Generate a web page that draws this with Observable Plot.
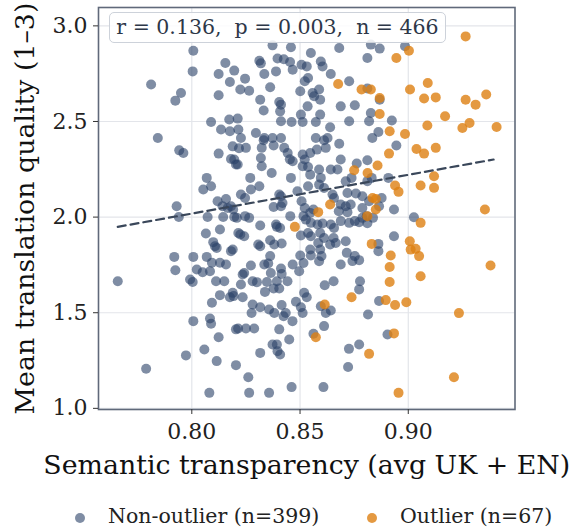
<!DOCTYPE html>
<html><head><meta charset="utf-8">
<script src="https://cdn.jsdelivr.net/npm/d3@7"></script>
<script src="https://cdn.jsdelivr.net/npm/@observablehq/plot@0.6"></script>
<style>
body{margin:0;background:#fff;font-family:"DejaVu Serif",serif;}
#wrap{position:relative;width:570px;height:528px;overflow:hidden;}
#stat{position:absolute;left:109px;top:12px;width:337px;height:31px;box-sizing:border-box;border:1px solid #cdd2da;border-radius:5px;background:rgba(255,255,255,0.85);font-size:20.5px;color:#2d3748;line-height:29px;text-align:center;white-space:pre;}
#legend{position:relative;height:24px;font-size:20.5px;color:#222;}
.item{position:absolute;top:0;line-height:24px;white-space:pre;}
.sw{position:absolute;width:10px;height:10px;border-radius:50%;top:9px;}
</style></head>
<body><div id="wrap"><div id="chart"></div><div id="stat"></div><div id="legend"></div></div>
<script>
const xTicks = [0.80, 0.85, 0.90];
const yTicks = [1.0, 1.5, 2.0, 2.5, 3.0];
const xLabel = "Semantic transparency (avg UK + EN)";
const yLabel = "Mean translation quality (1–3)";
const statText = "r = 0.136,  p = 0.003,  n = 466";
const seriesNames = ["Non-outlier (n=399)", "Outlier (n=67)"];
const fitLine = [{x: 0.7658, y: 1.949}, {x: 0.9394, y: 2.301}];

const nonOutlier = [
[0.8007,2.870],[0.8004,2.762],[0.8155,2.806],[0.8124,2.748],[0.8196,2.766],[0.8176,2.706],[0.7812,2.693],[0.7950,2.649],[0.7924,2.609],[0.8124,2.637],[0.8089,2.497],[0.8173,2.510],[0.8135,2.458],[0.8176,2.449],[0.7843,2.414],
[0.7942,2.349],[0.7961,2.335],[0.8124,2.332],[0.8181,2.304],[0.8204,2.275],[0.8069,2.205],[0.8053,2.144],[0.8089,2.161],[0.8119,2.083],[0.8158,2.095],[0.8142,2.057],[0.8166,2.048],[0.8191,2.040],[0.7930,2.057],[0.7940,2.001],[0.8073,2.001],[0.8145,2.001],[0.8196,2.001],[0.8065,1.914],[0.8130,1.935],[0.8099,1.869],[0.8115,1.839],[0.8107,1.848],[0.8189,1.831],[0.7919,1.792],[0.8007,1.792],[0.8069,1.792],[0.8093,1.761],[0.8130,1.761],[0.8158,1.752],[0.7924,1.722],[0.8023,1.726],[0.8050,1.712],[0.8084,1.717],
[0.7658,1.665],[0.7992,1.674],[0.8004,1.661],[0.8112,1.665],[0.8150,1.665],[0.8189,1.604],[0.8130,1.592],[0.8176,1.581],[0.8093,1.552],[0.8007,1.456],[0.8084,1.470],[0.8089,1.442],[0.8204,1.413],[0.8124,1.372],[0.8058,1.308],[0.7973,1.277],[0.8115,1.247],[0.8204,1.226],[0.7789,1.207],[0.8081,1.081],
[0.8235,1.700],[0.8227,1.648],[0.8281,1.665],[0.8301,1.660],[0.8365,1.708],[0.8415,1.703],[0.8496,1.717],[0.8347,1.661],[0.8393,1.665],[0.8442,1.665],[0.8338,1.609],[0.8378,1.627],[0.8404,1.627],[0.8235,1.581],[0.8193,1.587],[0.8519,1.604],[0.8531,1.581],[0.8481,1.557],[0.8614,1.644],[0.8655,1.665],[0.8777,1.665],[0.8773,1.622],[0.8281,1.543],[0.8276,1.499],[0.8316,1.529],[0.8357,1.517],[0.8381,1.499],[0.8415,1.540],[0.8434,1.499],[0.8424,1.482],[0.8504,1.529],[0.8512,1.499],[0.8596,1.534],[0.8642,1.512],[0.8619,1.499],[0.8814,1.491],[0.8465,1.456],[0.8214,1.418],[0.8250,1.418],[0.8288,1.418],[0.8404,1.413],[0.8611,1.430],[0.8562,1.390],[0.8450,1.360],[0.8373,1.334],[0.8393,1.334],[0.8396,1.299],[0.8408,1.282],[0.8316,1.290],[0.8726,1.311],[0.8773,1.334],[0.8722,1.216],[0.8261,1.163],[0.8265,1.081],[0.8357,1.081],[0.8461,1.111],[0.8608,1.111],
[0.8865,1.561],[0.8904,1.386],
[0.8945,2.374],[0.8811,2.297],[0.8831,2.205],[0.8908,2.205],[0.8811,2.188],[0.8877,2.100],[0.8819,2.083],[0.8865,2.057],[0.8934,2.040],[0.9026,1.999],[0.8837,1.996],[0.8811,1.968],[0.8934,1.900],[0.8862,1.860],[0.8862,1.822],
[0.8827,2.902],[0.8868,2.881],[0.8985,2.893],[0.8811,2.832],[0.8811,2.672],[0.8868,2.614],[0.8827,2.544],[0.8819,2.501],[0.8924,2.505],[0.8862,2.445],[0.8834,2.414],
[0.8373,2.898],[0.8458,2.888],[0.8550,2.858],[0.8681,2.884],[0.8312,2.818],[0.8319,2.804],[0.8396,2.829],[0.8454,2.811],[0.8425,2.825],[0.8596,2.814],[0.8507,2.797],[0.8531,2.788],[0.8335,2.748],[0.8389,2.762],[0.8466,2.771],[0.8604,2.788],[0.8642,2.748],[0.8246,2.724],[0.8537,2.727],[0.8522,2.710],[0.8727,2.710],[0.8224,2.667],[0.8265,2.661],[0.8362,2.679],[0.8501,2.658],[0.8558,2.649],[0.8565,2.632],[0.8588,2.667],[0.8593,2.614],[0.8316,2.614],[0.8404,2.602],[0.8412,2.588],[0.8535,2.579],[0.8688,2.579],[0.8753,2.585],[0.8332,2.557],[0.8408,2.553],[0.8504,2.536],[0.8593,2.536],[0.8212,2.515],[0.8412,2.501],[0.8461,2.497],[0.8512,2.497],[0.8573,2.497],[0.8639,2.470],[0.8727,2.501],[0.8215,2.458],[0.8296,2.440],[0.8335,2.414],[0.8373,2.414],[0.8412,2.414],[0.8573,2.414],[0.8627,2.414],
[0.8227,2.414],[0.8189,2.370],[0.8250,2.362],[0.8218,2.360],[0.8332,2.402],[0.8323,2.362],[0.8378,2.374],[0.8427,2.362],[0.8443,2.335],[0.8611,2.402],[0.8619,2.362],[0.8578,2.353],[0.8681,2.384],[0.8512,2.327],[0.8547,2.335],[0.8522,2.301],[0.8512,2.266],[0.8319,2.309],[0.8323,2.266],[0.8196,2.301],[0.8212,2.275],[0.8466,2.292],[0.8453,2.302],[0.8537,2.262],[0.8547,2.222],[0.8588,2.249],[0.8642,2.249],[0.8673,2.249],[0.8688,2.301],[0.8762,2.280],[0.8369,2.231],[0.8270,2.205],[0.8458,2.205],[0.8596,2.205],[0.8711,2.187],[0.8738,2.205],[0.8312,2.161],[0.8273,2.144],[0.8227,2.118],[0.8246,2.100],[0.8404,2.118],[0.8412,2.109],[0.8488,2.135],[0.8537,2.161],[0.8588,2.170],[0.8611,2.152],[0.8657,2.100],[0.8650,2.118],[0.8719,2.126],[0.8758,2.123],[0.8788,2.109],[0.8378,2.053],[0.8412,2.057],[0.8419,2.074],[0.8507,2.083],[0.8522,2.048],[0.8562,2.040],[0.8547,2.022],[0.8688,2.066],[0.8711,2.057],[0.8734,2.066],[0.8679,2.031],[0.8719,2.026],[0.8788,2.048],[0.8808,2.005],[0.8788,1.996],[0.8181,2.057],[0.8208,1.996],[0.8246,2.005],[0.8265,1.996],[0.8316,1.956],[0.8389,1.961],[0.8393,1.949],[0.8408,1.943],[0.8455,2.005],[0.8516,2.005],[0.8527,1.987],[0.8550,1.970],[0.8581,1.961],[0.8604,1.967],[0.8642,1.961],[0.8657,1.943],[0.8688,1.979],[0.8727,1.970],[0.8753,1.979],[0.8773,1.973],[0.8215,1.917],[0.8224,1.909],[0.8242,1.900],[0.8307,1.857],[0.8316,1.848],[0.8362,1.879],[0.8381,1.857],[0.8415,1.862],[0.8504,1.904],[0.8537,1.917],[0.8550,1.900],[0.8593,1.917],[0.8611,1.891],[0.8584,1.865],[0.8593,1.831],[0.8655,1.891],[0.8665,1.865],[0.8639,1.857],[0.8711,1.874],[0.8181,1.822],[0.8501,1.799],[0.8547,1.831],[0.8550,1.799],[0.8599,1.796],[0.8362,1.796],[0.8716,1.813],[0.8753,1.796],[0.8688,1.752],[0.8742,1.770],[0.8773,1.775],[0.8273,1.747],[0.8335,1.752],[0.8353,1.757],[0.8412,1.731],[0.8466,1.752],[0.8516,1.760],[0.8588,1.769],[0.8242,1.708]
];

const outlier = [
[0.9265,2.945],[0.9003,2.870],[0.8945,2.832],[0.9090,2.701],[0.9008,2.667],[0.8827,2.667],[0.8868,2.623],[0.9073,2.620],[0.9127,2.626],[0.9265,2.614],[0.9311,2.588],[0.9360,2.641],[0.9170,2.527],[0.8868,2.539],[0.9088,2.479],[0.9250,2.466],[0.9283,2.492],[0.9408,2.471],[0.8914,2.449],[0.8985,2.435],[0.8676,2.696],[0.8784,2.667],[0.9038,2.356],[0.9073,2.332],[0.9127,2.362],[0.8911,2.332],[0.8858,2.270],[0.8812,2.231],[0.8750,2.245],[0.9119,2.214],[0.8939,2.165],[0.8955,2.132],[0.9057,2.165],[0.9119,2.153],[0.8835,2.100],[0.8850,2.095],[0.8850,2.040],[0.9354,2.040],[0.9057,1.970],[0.8811,2.005],[0.8831,1.860],[0.9007,1.874],[0.9011,1.830],[0.9034,1.834],[0.9050,1.796],[0.8919,1.799],[0.8914,1.739],[0.9380,1.747],[0.9057,1.691],[0.8914,1.661],[0.8896,1.566],[0.8939,1.540],[0.8991,1.555],[0.9234,1.498],[0.8934,1.392],[0.8819,1.285],[0.9211,1.163],[0.8955,1.081],[0.8639,2.066],[0.8584,2.026],[0.8476,1.949],[0.8614,1.543],[0.8573,1.372],[0.8738,1.581]
];

const blue = "#2a4168", orange = "#dd8012";

const chart = Plot.plot({
  width: 570, height: 504,
  marginLeft: 98, marginRight: 55.5, marginTop: 7, marginBottom: 95,
  x: {domain: [0.7569, 0.9493]},
  y: {domain: [0.994, 3.096]},
  style: {fontFamily: "DejaVu Serif, serif", color: "#222", background: "#fff"},
  marks: [
    Plot.gridX(xTicks, {stroke: "#e3e5ea", strokeOpacity: 1, strokeWidth: 1.2}),
    Plot.gridY(yTicks, {stroke: "#e3e5ea", strokeOpacity: 1, strokeWidth: 1.2}),
    Plot.dot(nonOutlier, {x: d => d[0], y: d => d[1], r: 5, fill: blue, fillOpacity: 0.6, stroke: "none"}),
    Plot.dot(outlier, {x: d => d[0], y: d => d[1], r: 5, fill: orange, fillOpacity: 0.8, stroke: "none"}),
    Plot.line(fitLine, {x: "x", y: "y", stroke: "#3a475a", strokeWidth: 2.2, strokeDasharray: "8,5"}),
    Plot.frame({stroke: "#60697a", strokeWidth: 1.6}),
    Plot.axisX(xTicks, {tickSize: 5, tickPadding: 9, tickFormat: d3.format(".2f"), label: null, fontSize: 22, stroke: "#333"}),
    Plot.axisY(yTicks, {tickSize: 5, tickPadding: 6, tickFormat: d3.format(".1f"), label: null, fontSize: 22, stroke: "#333"}),
    Plot.text([xLabel], {frameAnchor: "bottom", dy: 56, textAnchor: "middle", lineAnchor: "middle", fontSize: 26.8, fill: "#111"}),
    Plot.text([yLabel], {frameAnchor: "left", rotate: -90, dx: -73, textAnchor: "middle", lineAnchor: "middle", fontSize: 26.8, fill: "#111"})
  ]
});
document.getElementById("chart").appendChild(chart);
document.getElementById("stat").textContent = statText;

const legend = document.getElementById("legend");
const items = [
  {name: seriesNames[0], color: blue, op: 0.6, dot: 75, text: 108},
  {name: seriesNames[1], color: orange, op: 0.8, dot: 367, text: 400}
];
for (const it of items) {
  const sw = document.createElement("div");
  sw.className = "sw";
  sw.style.left = it.dot + "px";
  sw.style.background = it.color;
  sw.style.opacity = it.op;
  legend.appendChild(sw);
  const t = document.createElement("div");
  t.className = "item";
  t.style.left = it.text + "px";
  t.textContent = it.name;
  legend.appendChild(t);
}
</script></body></html>
